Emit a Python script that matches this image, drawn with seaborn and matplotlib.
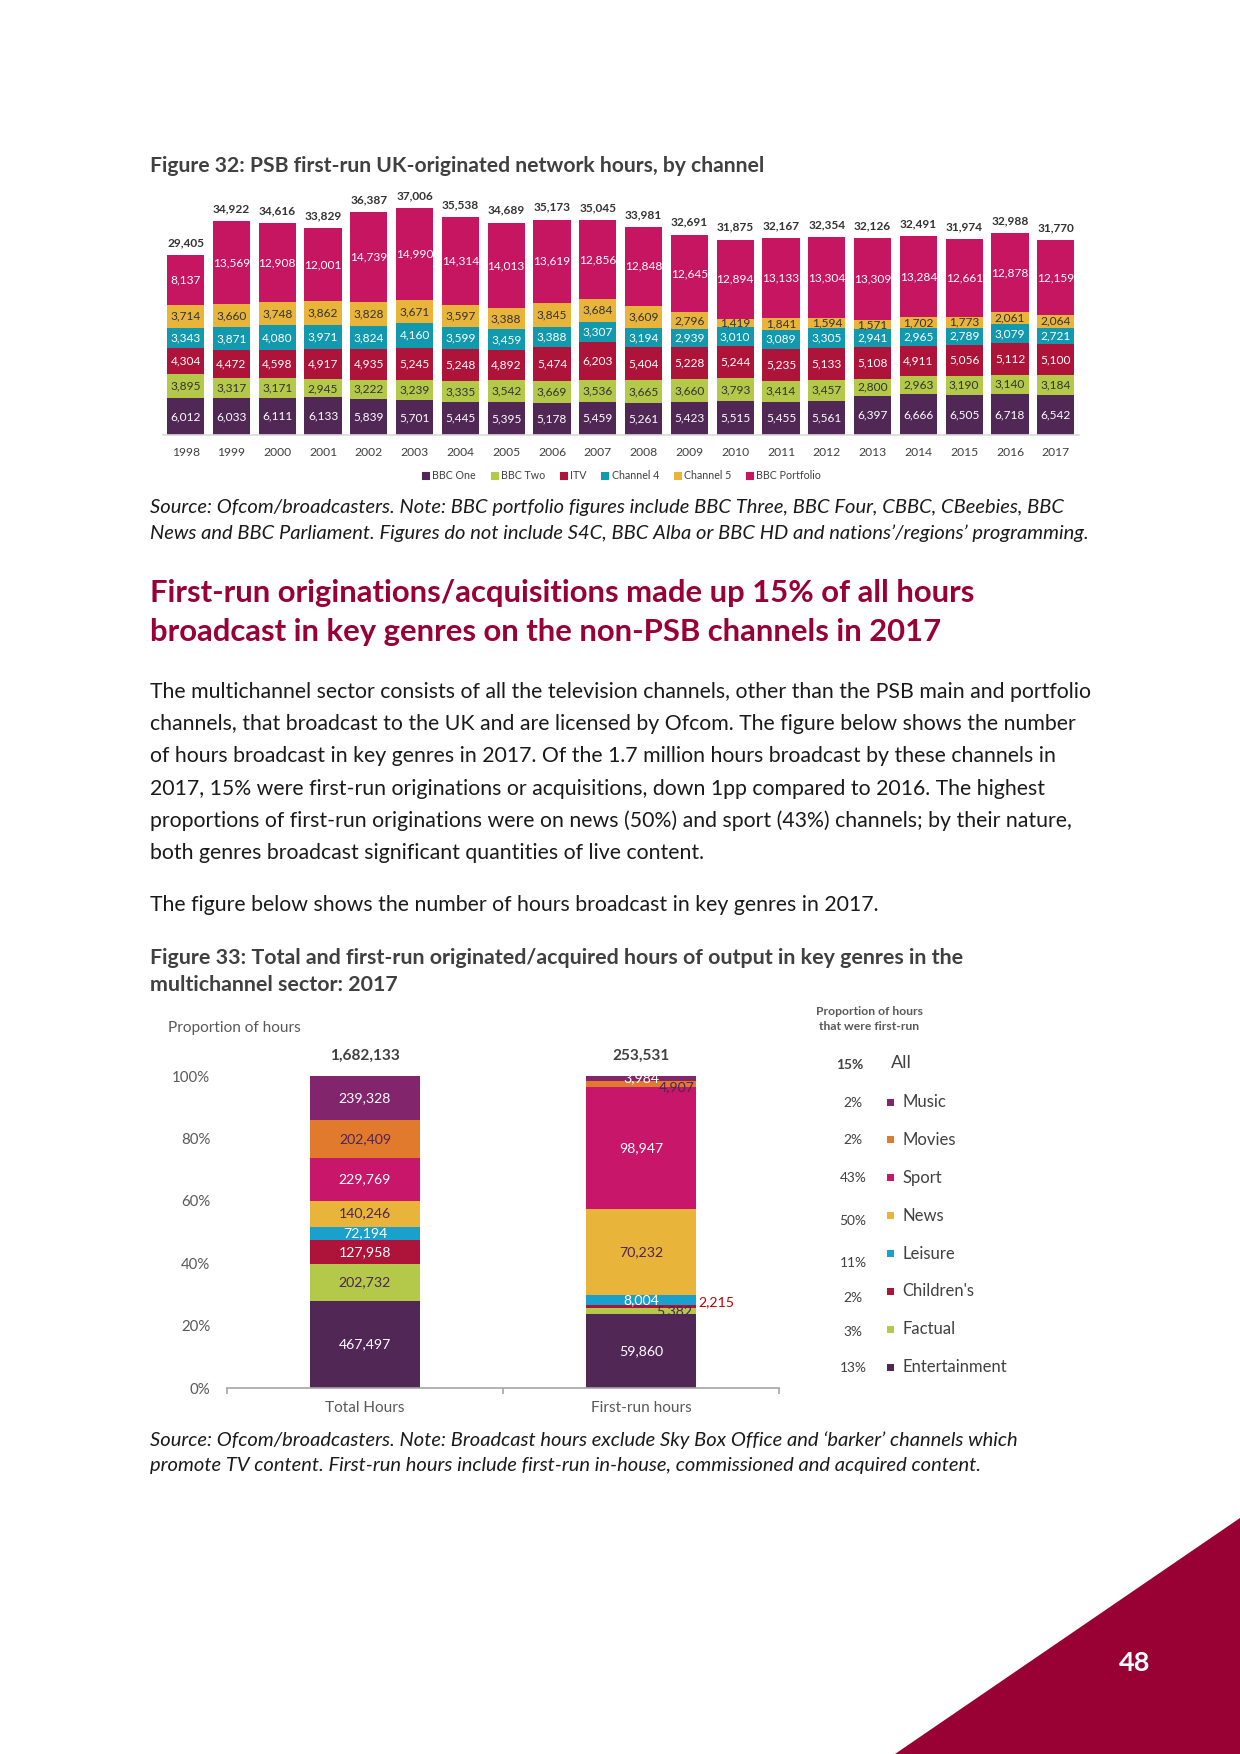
import numpy as np
import pandas as pd
import seaborn as sns
import matplotlib.pyplot as plt
from matplotlib.lines import Line2D
from matplotlib.patches import Polygon, Rectangle

sns.set_theme(style='white')
plt.rcParams['font.family'] = ['Lato', 'DejaVu Sans']

# Figure 32 data
years = [str(y) for y in range(1998, 2018)]
bbc_one = [6012, 6033, 6111, 6133, 5839, 5701, 5445, 5395, 5178, 5459,
           5261, 5423, 5515, 5455, 5561, 6397, 6666, 6505, 6718, 6542]
bbc_two = [3895, 3317, 3171, 2945, 3222, 3239, 3335, 3542, 3669, 3536,
           3665, 3660, 3793, 3414, 3457, 2800, 2963, 3190, 3140, 3184]
itv = [4304, 4472, 4598, 4917, 4935, 5245, 5248, 4892, 5474, 6203,
       5404, 5228, 5244, 5235, 5133, 5108, 4911, 5056, 5112, 5100]
channel4 = [3343, 3871, 4080, 3971, 3824, 4160, 3599, 3459, 3388, 3307,
            3194, 2939, 3010, 3089, 3305, 2941, 2965, 2789, 3079, 2721]
channel5 = [3714, 3660, 3748, 3862, 3828, 3671, 3597, 3388, 3845, 3684,
            3609, 2796, 1419, 1841, 1594, 1571, 1702, 1773, 2061, 2064]
portfolio = [8137, 13569, 12908, 12001, 14739, 14990, 14314, 14013, 13619, 12856,
             12848, 12645, 12894, 13133, 13304, 13309, 13284, 12661, 12878, 12159]
totals = [29405, 34922, 34616, 33829, 36387, 37006, 35538, 34689, 35173, 35045,
          33981, 32691, 31875, 32167, 32354, 32126, 32491, 31974, 32988, 31770]

channels = ['BBC One', 'BBC Two', 'ITV', 'Channel 4', 'Channel 5', 'BBC Portfolio']
ch_colours = ['#512756', '#B4C84A', '#AE1439', '#1299AE', '#E9B43A', '#C71661']
ch_text = ['white', '#333333', 'white', 'white', '#333333', 'white']

# Figure 33 data
genres = ['Entertainment', 'Factual', "Children's", 'Leisure', 'News', 'Sport', 'Movies', 'Music']
total_hours = [467497, 202732, 127958, 72194, 140246, 229769, 202409, 239328]
first_run_hours = [59860, 5382, 2215, 8004, 70232, 98947, 4907, 3984]
first_run_pct = ['13%', '3%', '2%', '11%', '50%', '43%', '2%', '2%']
all_pct = '15%'
bar_names = ['Total Hours', 'First-run hours']
g_colours = ['#512756', '#B4C84A', '#AE1439', '#19A0CC', '#E9B43A', '#C8166A', '#E17A2C', '#83256D']
g_text = ['white', '#4F2355', 'white', 'white', '#4F2355', 'white', '#4F2355', 'white']

W, H = 1240, 1754
fig = plt.figure(figsize=(W / 150, H / 150), dpi=150)

def fx(x):
    return x / W

def fy(y):
    return 1 - y / H

def put(x, y, s, **kw):
    kw.setdefault('va', 'center')
    kw.setdefault('ha', 'left')
    fig.text(fx(x), fy(y), s, **kw)

dark = '#404040'
crimson = '#990033'
body = '#1a1a1a'

# ---- Figure 32 ----
put(150, 166, 'Figure 32: PSB first-run UK-originated network hours, by channel',
    fontsize=10.15, fontweight='bold', color=dark)

ax1 = fig.add_axes([fx(162.7), fy(435), 916 / W, 244.94 / H])
df1 = pd.DataFrame({'year': years, 'BBC One': bbc_one, 'BBC Two': bbc_two, 'ITV': itv,
                    'Channel 4': channel4, 'Channel 5': channel5, 'BBC Portfolio': portfolio})
cum1 = df1[channels].cumsum(axis=1)
for ch, col in reversed(list(zip(channels, ch_colours))):
    sns.barplot(x=df1['year'], y=cum1[ch], color=col, saturation=1, width=0.815,
                errorbar=None, linewidth=0, ax=ax1)

for i in range(len(years)):
    for ch, tc in zip(channels, ch_text):
        v = df1[ch][i]
        ax1.text(i, cum1[ch][i] - v / 2, f'{v:,}', ha='center', va='center',
                 fontsize=5.7, color=tc)
    ax1.annotate(f'{totals[i]:,}', (i, totals[i]), xytext=(0, 6), textcoords='offset points',
                 ha='center', va='center', fontsize=5.7, fontweight='bold', color='#333333')

ax1.set_ylim(0, 40000)
ax1.set_xlim(-0.5, len(years) - 0.5)
ax1.set_xlabel('')
ax1.set_ylabel('')
ax1.set_yticks([])
for s in ['top', 'right', 'left']:
    ax1.spines[s].set_visible(False)
ax1.spines['bottom'].set_color('#D9D9D9')
ax1.spines['bottom'].set_linewidth(0.8)
ax1.tick_params(axis='x', length=0, labelsize=5.8, labelcolor=dark, pad=6)
ax1.set_facecolor('none')

handles = [Line2D([], [], marker='s', linestyle='none', markersize=3.2, color=c) for c in ch_colours]
fig.legend(handles, channels, loc='center', bbox_to_anchor=(fx(622), fy(476)), ncol=6,
           frameon=False, fontsize=5.1, handlelength=0.6, handletextpad=0.3, columnspacing=1.45,
           labelcolor=dark)

put(150, 508, 'Source: Ofcom/broadcasters. Note: BBC portfolio figures include BBC Three, BBC Four, CBBC, CBeebies, BBC',
    fontsize=9.65, fontstyle='italic', color=body)
put(150, 533, 'News and BBC Parliament. Figures do not include S4C, BBC Alba or BBC HD and nations\u2019/regions\u2019 programming.',
    fontsize=9.65, fontstyle='italic', color=body)

# ---- heading and body text ----
put(150, 593, 'First-run originations/acquisitions made up 15% of all hours',
    fontsize=14.9, fontweight='bold', color=crimson)
put(150, 632, 'broadcast in key genres on the non-PSB channels in 2017',
    fontsize=14.9, fontweight='bold', color=crimson)

para = ['The multichannel sector consists of all the television channels, other than the PSB main and portfolio',
        'channels, that broadcast to the UK and are licensed by Ofcom. The figure below shows the number',
        'of hours broadcast in key genres in 2017. Of the 1.7 million hours broadcast by these channels in',
        '2017, 15% were first-run originations or acquisitions, down 1pp compared to 2016. The highest',
        'proportions of first-run originations were on news (50%) and sport (43%) channels; by their nature,',
        'both genres broadcast significant quantities of live content.']
for i, line in enumerate(para):
    put(150, 692 + 32.2 * i, line, fontsize=10.18, color=body)
put(150, 905, 'The figure below shows the number of hours broadcast in key genres in 2017.',
    fontsize=10.18, color=body)

# ---- Figure 33 ----
put(150, 958, 'Figure 33: Total and first-run originated/acquired hours of output in key genres in the',
    fontsize=10.25, fontweight='bold', color=dark)
put(150, 985, 'multichannel sector: 2017', fontsize=10.25, fontweight='bold', color=dark)
put(168, 1028, 'Proportion of hours', fontsize=7.4, color='#595959')

ax2 = fig.add_axes([fx(227), fy(1388), 552 / W, 312 / H])
df2 = pd.DataFrame({'genre': genres, 'Total Hours': total_hours, 'First-run hours': first_run_hours})
shares = df2[bar_names] / df2[bar_names].sum()
cum2 = shares.cumsum()
for k in reversed(range(len(genres))):
    sns.barplot(x=bar_names, y=cum2.iloc[k].values, color=g_colours[k], saturation=1,
                width=0.4, errorbar=None, linewidth=0, ax=ax2)

# nudges (points) for the thin first-run segments, as placed in the original
nudge = {(1, 1): (16, 0), (1, 2): (36, 2), (1, 6): (17, -1.5)}
for j, name in enumerate(bar_names):
    for k in range(len(genres)):
        v = df2[name][k]
        y = cum2[name][k] - shares[name][k] / 2
        tc = '#C00000' if (j, k) == (1, 2) else g_text[k]
        ax2.annotate(f'{v:,}', (j, y), xytext=nudge.get((j, k), (0, 0)), textcoords='offset points',
                     ha='center', va='center', fontsize=6.8, color=tc, annotation_clip=False)
    ax2.annotate(f'{df2[name].sum():,}', (j, 1.0), xytext=(0, 9.6), textcoords='offset points',
                 ha='center', va='center', fontsize=7.4, fontweight='bold', color=dark,
                 annotation_clip=False)

ax2.set_ylim(0, 1)
ax2.set_xlim(-0.5, 1.5)
ax2.set_xlabel('')
ax2.set_ylabel('')
ax2.set_yticks(np.arange(0, 1.01, 0.2), [f'{p:.0%}' for p in np.arange(0, 1.01, 0.2)])
ax2.set_xticks([0, 1], bar_names)
ax2.set_xticks([-0.5, 0.5, 1.5], minor=True)
for s in ['top', 'right', 'left']:
    ax2.spines[s].set_visible(False)
ax2.spines['bottom'].set_color('#A6A6A6')
ax2.spines['bottom'].set_linewidth(0.8)
ax2.tick_params(axis='y', length=0, labelsize=7.2, labelcolor='#595959', pad=8)
ax2.tick_params(axis='x', which='major', length=0, labelsize=7.4, labelcolor='#595959', pad=6)
ax2.tick_params(axis='x', which='minor', length=3, width=0.8, color='#A6A6A6', bottom=True)
ax2.set_facecolor('none')

# side key with first-run shares
put(869, 1012, 'Proportion of hours', ha='center', fontsize=5.8, fontweight='bold', color='#595959')
put(869, 1027, 'that were first-run', ha='center', fontsize=5.8, fontweight='bold', color='#595959')
put(850, 1065, all_pct, ha='center', fontsize=6.6, fontweight='bold', color=dark)
put(891, 1063, 'All', fontsize=8.6, color=dark)
pct_nudge = [1, 0, 0, 5, 9, 6, 3, 1]
for r, k in enumerate(reversed(range(len(genres)))):
    y = 1102 + 37.9 * r
    put(853, y + pct_nudge[r], first_run_pct[k], ha='center', fontsize=6.6, color=dark)
    fig.add_artist(Rectangle((fx(887), fy(y + 3.5)), 7 / W, 7 / H, transform=fig.transFigure,
                             color=g_colours[k], lw=0))
    put(902, y, genres[k], fontsize=8, color=dark)

put(150, 1440, 'Source: Ofcom/broadcasters. Note: Broadcast hours exclude Sky Box Office and \u2018barker\u2019 channels which',
    fontsize=9.7, fontstyle='italic', color=body)
put(150, 1465, 'promote TV content. First-run hours include first-run in-house, commissioned and acquired content.',
    fontsize=9.7, fontstyle='italic', color=body)

# page corner
fig.add_artist(Polygon([(fx(895), fy(1754)), (fx(1240), fy(1518)), (fx(1240), fy(1754))],
                       closed=True, transform=fig.transFigure, color=crimson, lw=0))
put(1135, 1663, '48', ha='center', fontsize=13, fontweight='bold', color='white')

fig.savefig('out.png', dpi=150)
